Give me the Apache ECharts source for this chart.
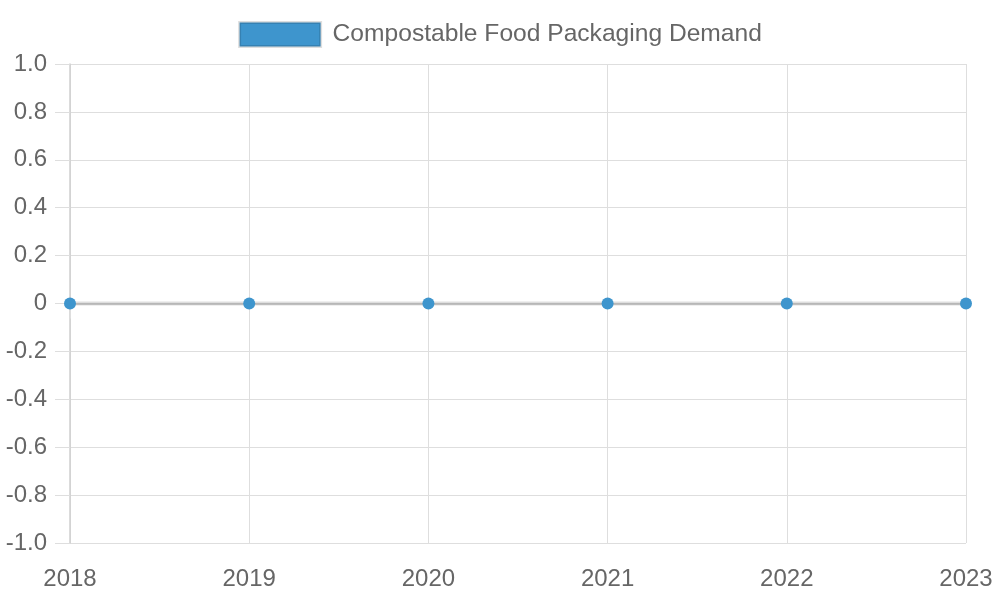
<!DOCTYPE html>
<html>
<head>
<meta charset="utf-8">
<script src="https://cdn.jsdelivr.net/npm/echarts@6/dist/echarts.min.js"></script>
<style>
  html, body { margin: 0; padding: 0; background: #fff; }
  #main { width: 1000px; height: 600px; }
</style>
</head>
<body>
<div id="main"></div>
<script>
// data
var years = ['2018', '2019', '2020', '2021', '2022', '2023'];
var demand = [0, 0, 0, 0, 0, 0];
var seriesName = 'Compostable Food Packaging Demand';

var myChart = echarts.init(document.getElementById('main'));

var textColor = '#666';
var gridColor = '#dedede';
var axisColor = '#cfcfcf';
var blue = '#3e95cd';

var option = {
    animation: false,
    textStyle: { fontFamily: 'Liberation Sans, Arial, sans-serif' },
    legend: {
        top: 16,
        left: 'center',
        itemWidth: 81,
        itemHeight: 24,
        data: [{ name: seriesName, icon: 'rect' }],
        itemStyle: { color: blue, borderColor: 'rgba(0,0,0,0.13)', borderWidth: 3 },
        textStyle: { color: textColor, fontSize: 24.6, padding: [0, 0, 0, 7] }
    },
    grid: { left: 70, right: 34, top: 64, bottom: 57, containLabel: false },
    xAxis: {
        type: 'category',
        data: years,
        boundaryGap: false,
        axisLine: { show: true, lineStyle: { color: axisColor, width: 1.5 } },
        axisTick: { show: true, length: 15, alignWithLabel: true, lineStyle: { color: gridColor } },
        splitLine: { show: true, lineStyle: { color: gridColor } },
        axisLabel: { color: textColor, fontSize: 24, margin: 24 }
    },
    yAxis: {
        type: 'value',
        min: -1,
        max: 1,
        interval: 0.2,
        axisLine: { show: true, lineStyle: { color: axisColor, width: 1.5 } },
        axisTick: { show: true, length: 15, lineStyle: { color: gridColor } },
        splitLine: { show: true, lineStyle: { color: gridColor } },
        axisLabel: {
            color: textColor,
            fontSize: 24,
            margin: 23,
            formatter: function (v) {
                if (Math.abs(v) < 1e-9) return '0';
                return v.toFixed(1);
            }
        }
    },
    series: [
        {
            name: seriesName,
            type: 'line',
            data: demand,
            symbol: 'circle',
            symbolSize: 12,
            itemStyle: { color: blue },
            lineStyle: { color: 'rgba(0,0,0,0.13)', width: 4 },
            z: 3
        }
    ]
};

myChart.setOption(option);
</script>
</body>
</html>
